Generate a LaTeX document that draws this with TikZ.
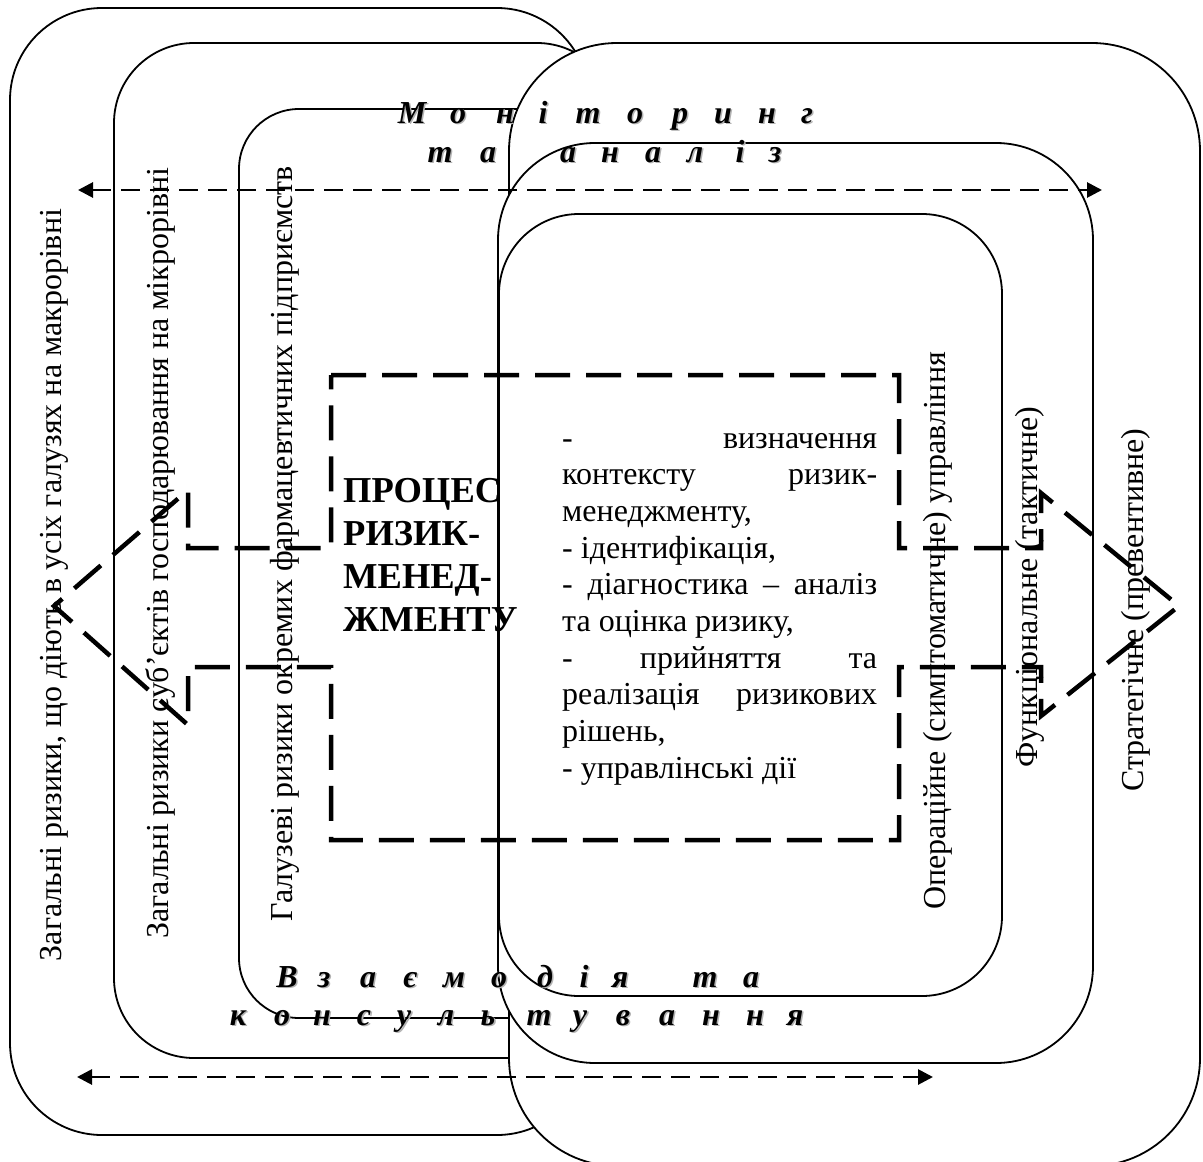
\documentclass[tikz,border=0pt]{standalone}
\usepackage{fontspec}
\IfFontExistsTF{LiberationSerif-Regular.ttf}
  {\setmainfont{LiberationSerif}[Extension=.ttf, UprightFont=*-Regular,
     BoldFont=*-Bold, ItalicFont=*-Italic, BoldItalicFont=*-BoldItalic]}
  {\setmainfont{Liberation Serif}}
\usetikzlibrary{arrows.meta}

% letter with a soft grey drop shadow
\newcommand{\shletter}[1]{\makebox[0pt][l]{\hspace{1.6pt}\raisebox{-1.6pt}{\textcolor{black!30}{#1}}}#1}

\tikzset{
  frame/.style={draw=black, line width=1.8pt, fill=white},
  bigdash/.style={draw=black, line width=4.5pt, dash pattern=on 35pt off 16pt},
  flowarrow/.style={draw=black, line width=2.8pt, dash pattern=on 19pt off 10pt,
    {Triangle[length=15pt,width=15pt]}-{Triangle[length=15pt,width=15pt]}},
  vlabel/.style={rotate=90, anchor=base, inner sep=0pt, font=\rmfamily\fontsize{32}{36.7}\selectfont},
  bodyline/.style={anchor=base west, inner sep=0pt, font=\rmfamily\fontsize{32}{36.7}\selectfont},
  titleline/.style={anchor=base west, inner sep=0pt, font=\rmfamily\bfseries\fontsize{36.5}{43}\selectfont},
  spread/.style={anchor=base, inner sep=0pt, font=\rmfamily\bfseries\itshape\fontsize{32}{36.7}\selectfont},
}

\begin{document}
\begin{tikzpicture}[x=1pt,y=-1pt]
\useasboundingbox (0,0) rectangle (1203,1162);
\clip (0,0) rectangle (1203,1162);

% levels of risk (left family of frames)
\path[frame, rounded corners=92pt] (10,8) rectangle (589,1135);
\path[frame, rounded corners=80pt] (114,43) rectangle (617,1058);
\path[frame, rounded corners=60pt] (239,109) rectangle (620,1018);

% levels of management (right family of frames)
\path[frame, rounded corners=108pt] (509,43) rectangle (1200,1166);
\path[frame, rounded corners=97pt] (498,143) rectangle (1093,1063);
\path[frame, rounded corners=80pt] (499,214) rectangle (1002,996);

% the process block with its two arrow heads
\draw[bigdash, line join=miter]
  (331,375) -- (899,375) -- (899,548) -- (1041,548) -- (1041,493)
  -- (1179,606) -- (1041,716) -- (1041,667) -- (899,667) -- (899,840)
  -- (331,840) -- (331,667) -- (188,667) -- (188,725) -- (54,606)
  -- (188,490) -- (188,548) -- (331,548) -- cycle;

% monitoring and interaction flows
\coordinate (monL) at (78,190);
\coordinate (monR) at (1102,190);
\draw[flowarrow] (monL) -- (monR);
\coordinate (intL) at (77,1077);
\coordinate (intR) at (933,1077);
\draw[flowarrow] (intL) -- (intR);

% spaced headings
\foreach \ch/\xx [count=\i] in {М/412, о/458, н/505, і/543, т/588, о/635, р/680, и/723, н/767, г/807}
  \node[spread] (monA\i) at (\xx,123) {\shletter{\ch}};
\foreach \ch/\xx [count=\i] in {т/440, а/488, а/568, н/610, а/653, л/695, і/740, з/775}
  \node[spread] (monB\i) at (\xx,162) {\shletter{\ch}};
\foreach \ch/\xx [count=\i] in {В/287, з/324, а/368, є/410, м/454, о/499, д/545, і/584, я/620, т/705, а/751}
  \node[spread] (intA\i) at (\xx,987) {\shletter{\ch}};
\foreach \ch/\xx [count=\i] in {к/238, о/282, н/322, с/364, у/404, л/446, ь/488, т/539, у/580, в/623, а/667, н/711, н/755, я/795}
  \node[spread] (intB\i) at (\xx,1025) {\shletter{\ch}};

% vertical labels
\node[vlabel] (macro) at (61,585) {Загальні ризики, що діють в усіх галузях на макрорівні};
\node[vlabel] (micro) at (168,553) {Загальні ризики суб’єктів господарювання на мікрорівні};
\node[vlabel] (branch) at (292,544) {Галузеві ризики окремих фармацевтичних підприємств};
\node[vlabel] (oper) at (945,631) {Операційне (симптоматичне) управління};
\node[vlabel] (func) at (1037,587) {Функціональне (тактичне)};
\node[vlabel] (strat) at (1143,610) {Стратегічне (превентивне)};

% title of the block
\foreach \ln [count=\i] in {ПРОЦЕС, РИЗИК-, МЕНЕД-, ЖМЕНТУ}
  \node[titleline] (title\i) at (343,{502+(\i-1)*43}) {\ln};

% stages of the process
\foreach \ln [count=\i] in {
    {\makebox[315pt][s]{- визначення}},
    {\makebox[315pt][s]{контексту ризик-}},
    {менеджменту,},
    {- ідентифікація,},
    {\makebox[315pt][s]{- діагностика – аналіз}},
    {та оцінка ризику,},
    {\makebox[315pt][s]{- прийняття та}},
    {\makebox[315pt][s]{реалізація ризикових}},
    {рішень,},
    {- управлінські дії}}
  \node[bodyline] (body\i) at (562,{448+(\i-1)*36.7}) {\ln};
\end{tikzpicture}
\end{document}
